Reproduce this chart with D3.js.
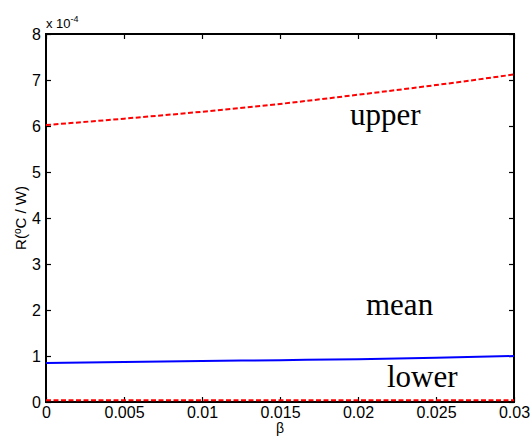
<!DOCTYPE html>
<html>
<head>
<meta charset="utf-8">
<script src="https://cdn.jsdelivr.net/npm/d3@7"></script>
<style>
  body { margin: 0; background: #fff; }
  text { font-family: "Liberation Sans", Arial, sans-serif; }
</style>
</head>
<body>
<div id="chart"></div>
<script>
let width = 531,
  height = 438

// data (values in units of 1e-4)
let beta = [0, 0.005, 0.01, 0.015, 0.02, 0.025, 0.03]
let upper = [6.02, 6.16, 6.31, 6.48, 6.68, 6.89, 7.12]
let mean = [0.85, 0.87, 0.89, 0.91, 0.93, 0.96, 1.0]
let lower = [0.04, 0.04, 0.04, 0.04, 0.04, 0.04, 0.04]
let xTicks = [0, 0.005, 0.01, 0.015, 0.02, 0.025, 0.03]
let yTicks = [0, 1, 2, 3, 4, 5, 6, 7, 8]

let margin = {top: 34, right: 17, bottom: 36, left: 46}

let svg = d3.select('#chart')
  .append('svg')
  .attr('width', width)
  .attr('height', height)

let x = d3.scaleLinear()
  .domain([0, 0.03])
  .range([margin.left, width - margin.right])

let y = d3.scaleLinear()
  .domain([0, 8])
  .range([height - margin.bottom, margin.top])

let fmt = d => d === 0 ? '0' : String(+d.toFixed(3))

// axes, MATLAB style: ticks inside on all four sides
let xb = svg.append('g')
  .attr('transform', `translate(0,${y(0)})`)
  .call(d3.axisBottom(x).tickValues(xTicks).tickSize(-5).tickPadding(5).tickFormat(fmt))
let xt = svg.append('g')
  .attr('transform', `translate(0,${y(8)})`)
  .call(d3.axisTop(x).tickValues(xTicks).tickSize(-5).tickFormat(''))
let yl = svg.append('g')
  .attr('transform', `translate(${x(0)},0)`)
  .call(d3.axisLeft(y).tickValues(yTicks).tickSize(-5).tickPadding(5))
let yr = svg.append('g')
  .attr('transform', `translate(${x(0.03)},0)`)
  .call(d3.axisRight(y).tickValues(yTicks).tickSize(-5).tickFormat(''))

;[xb, xt, yl, yr].forEach(g => {
  g.select('.domain').remove()
  g.selectAll('.tick line').attr('stroke', '#000').attr('stroke-width', 1.2)
  g.selectAll('.tick text')
    .attr('fill', '#000')
    .attr('font-size', '16px')
    .attr('font-family', '"Liberation Sans", Arial, sans-serif')
})
svg.append('rect')
  .attr('x', x(0)).attr('y', y(8))
  .attr('width', x(0.03) - x(0)).attr('height', y(0) - y(8))
  .attr('fill', 'none').attr('stroke', '#000').attr('stroke-width', 2)

// exponent label
let ex = svg.append('text')
  .attr('x', x(0))
  .attr('y', y(8) - 6)
  .attr('font-size', '13px')
ex.append('tspan').text('x 10')
ex.append('tspan').attr('dy', -6).attr('font-size', '9px').text('-4')

// axis labels
let yl_t = svg.append('text')
  .attr('transform', `translate(26,${(y(0) + y(8)) / 2}) rotate(-90)`)
  .attr('text-anchor', 'middle')
  .attr('font-size', '15px')
yl_t.append('tspan').text('R(')
yl_t.append('tspan').attr('dy', -5).attr('font-size', '10px').text('o')
yl_t.append('tspan').attr('dy', 5).text('C / W)')

svg.append('text')
  .attr('x', (x(0) + x(0.03)) / 2)
  .attr('y', 433)
  .attr('text-anchor', 'middle')
  .attr('font-size', '14px')
  .text('β')

// lines
let line = vals => d3.line()
  .x((d, i) => x(beta[i]))
  .y(d => y(d))
  .curve(d3.curveMonotoneX)(vals)

svg.append('path')
  .attr('d', line(mean))
  .attr('fill', 'none')
  .attr('stroke', '#0000ff')
  .attr('stroke-width', 2)

svg.append('path')
  .attr('d', line(upper))
  .attr('fill', 'none')
  .attr('stroke', '#ff0000')
  .attr('stroke-width', 2)
  .attr('stroke-dasharray', '5,2.5')

svg.append('path')
  .attr('d', line(lower))
  .attr('fill', 'none')
  .attr('stroke', '#ff0000')
  .attr('stroke-width', 2)
  .attr('stroke-dasharray', '5,2.5')

// series annotations
let ann = [
  {t: 'upper', x: 350, y: 125},
  {t: 'mean', x: 366, y: 315},
  {t: 'lower', x: 387, y: 387}
]
svg.selectAll('.ann')
  .data(ann)
  .enter().append('text')
  .attr('class', 'ann')
  .attr('x', d => d.x)
  .attr('y', d => d.y)
  .attr('font-size', '31px')
  .style('font-family', '"Liberation Serif", "Times New Roman", serif')
  .text(d => d.t)
</script>
</body>
</html>
